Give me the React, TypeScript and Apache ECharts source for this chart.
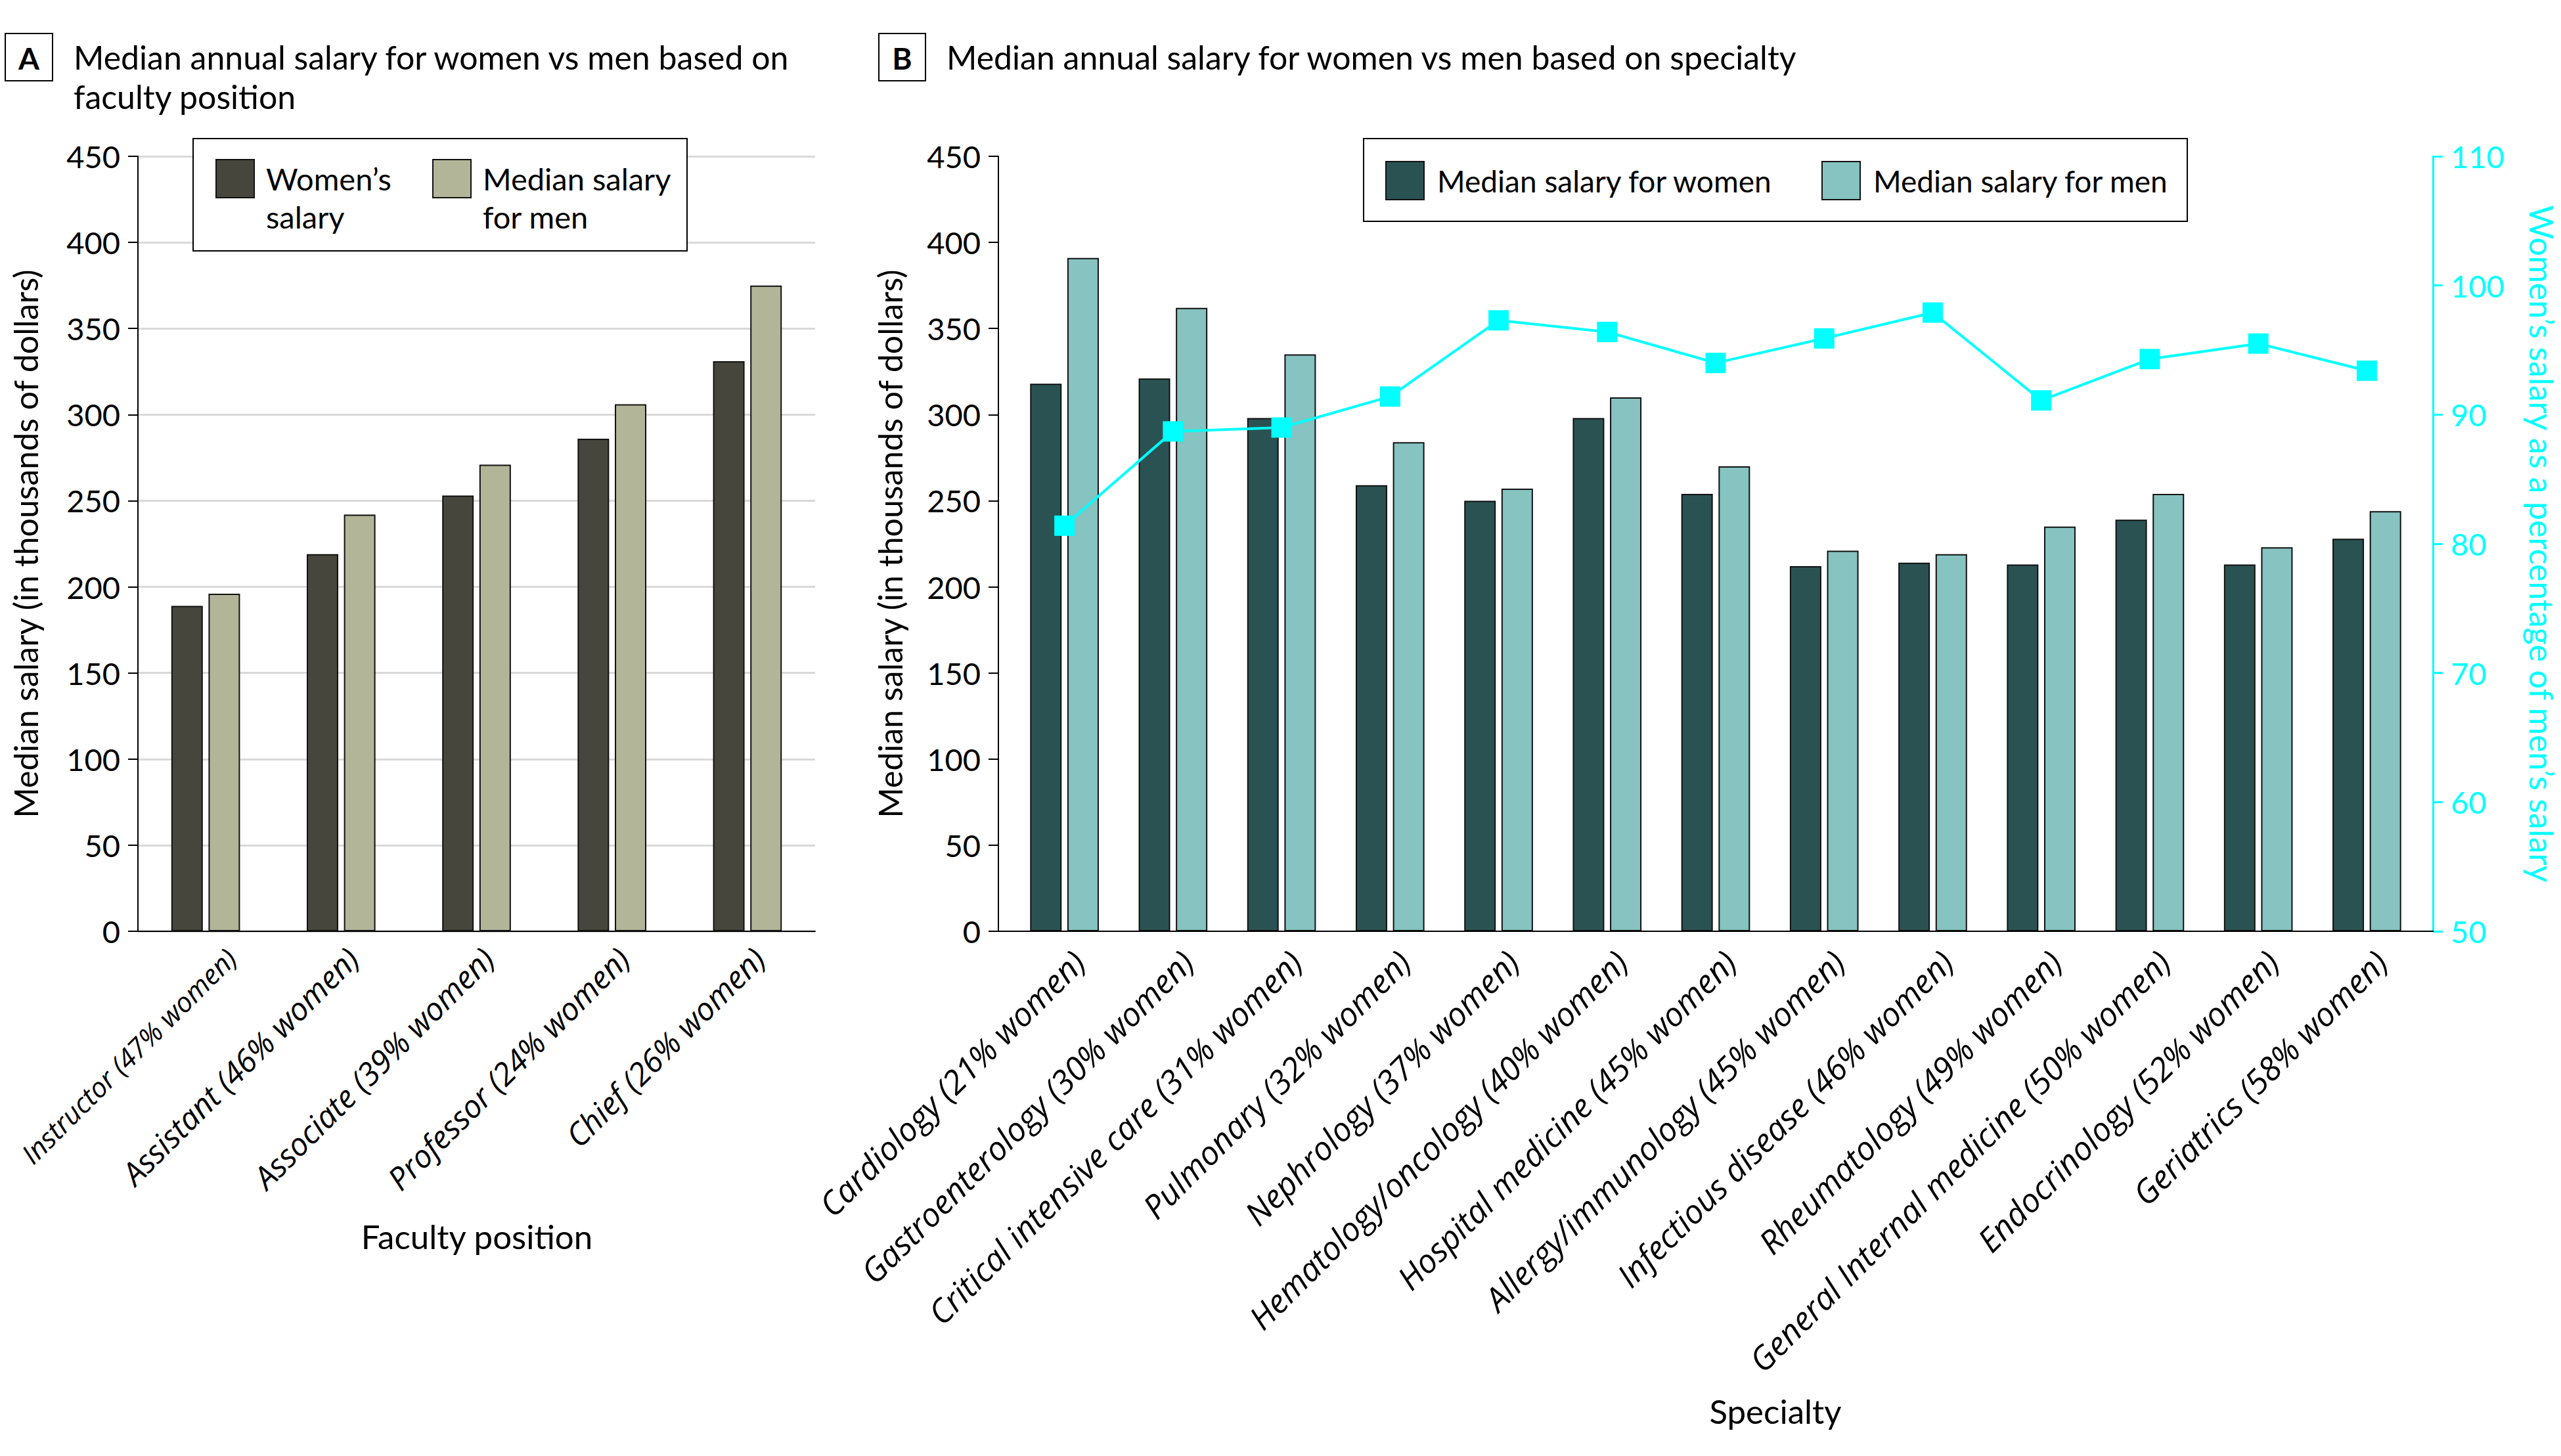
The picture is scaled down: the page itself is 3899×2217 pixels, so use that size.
import React, { useEffect, useRef } from "react";
import * as echarts from "echarts";

// ---------- DATA ----------
const positionCategories = [
  "Instructor (47% women)",
  "Assistant (46% women)",
  "Associate (39% women)",
  "Professor (24% women)",
  "Chief (26% women)",
];
const positionWomen = [189, 219, 253, 286, 331];
const positionMen = [196, 242, 271, 306, 375];

const specialtyCategories = [
  "Cardiology (21% women)",
  "Gastroenterology (30% women)",
  "Critical intensive care (31% women)",
  "Pulmonary (32% women)",
  "Nephrology (37% women)",
  "Hematology/oncology (40% women)",
  "Hospital medicine (45% women)",
  "Allergy/immunology (45% women)",
  "Infectious disease (46% women)",
  "Rheumatology (49% women)",
  "General Internal medicine (50% women)",
  "Endocrinology (52% women)",
  "Geriatrics (58% women)",
];
const specialtyWomen = [318, 321, 298, 259, 250, 298, 254, 212, 214, 213, 239, 213, 228];
const specialtyMen = [391, 362, 335, 284, 257, 310, 270, 221, 219, 235, 254, 223, 244];
const womenPctOfMen = [81.4, 88.7, 89.0, 91.4, 97.3, 96.4, 94.0, 95.9, 97.9, 91.1, 94.3, 95.5, 93.4];

const salaryAxis = { min: 0, max: 450, interval: 50 };
const pctAxis = { min: 50, max: 110, interval: 10 };

const FONT = "Lato, 'Noto Sans', sans-serif";
const LABEL_FONT = "'Open Sans', 'Noto Sans', sans-serif";
const CYAN = "#00ffff";

export default function App() {
  const ref = useRef<HTMLDivElement>(null);

  useEffect(() => {
    if (!ref.current) return;
    const chart = echarts.init(ref.current, null, { renderer: "svg" });

    const barBase = {
      type: "bar",
      barWidth: 48,
      barGap: "18%",
    };
    const border = { borderColor: "#111", borderWidth: 2 };
    const centered = {
      textAlign: "center",
      textVerticalAlign: "middle",
      align: "center",
      verticalAlign: "middle",
    };
    const positionLabel = {
      interval: 0,
      rotate: 45,
      lineHeight: 50,
      fontStyle: "italic",
      color: "#000",
      margin: -3,
      verticalAlign: "top",
      padding: [13, 13, 0, 0],
      fontFamily: LABEL_FONT,
    };

    const option: any = {
      animation: false,
      backgroundColor: "#ffffff",
      textStyle: { fontFamily: FONT },
      title: [
        {
          text: "Median annual salary for women vs men based on\nfaculty position",
          left: 112,
          top: 57,
          padding: 0,
          textStyle: { fontSize: 50, fontWeight: "normal", color: "#000", lineHeight: 60, fontFamily: FONT },
        },
        {
          text: "Median annual salary for women vs men based on specialty",
          left: 1441,
          top: 57,
          padding: 0,
          textStyle: { fontSize: 50, fontWeight: "normal", color: "#000", lineHeight: 60, fontFamily: FONT },
        },
      ],
      grid: [
        { left: 210, right: 2658, top: 238, bottom: 799, outerBoundsMode: "none", containLabel: false },
        { left: 1538, right: 213, top: 238, bottom: 799, outerBoundsMode: "none", containLabel: false },
        // label-only grid: the first faculty label sits slightly to the right in the reference
        { left: 231, right: 2637, top: 238, bottom: 799, outerBoundsMode: "none", containLabel: false },
      ],
      legend: [
        {
          data: ["Women’s salary"],
          left: 328,
          top: 185,
          padding: 0,
          icon: "rect",
          itemWidth: 58,
          itemHeight: 58,
          selectedMode: false,
          formatter: () => "\nWomen’s\nsalary",
          textStyle: { fontSize: 47, lineHeight: 58, padding: [0, 0, 0, 13], color: "#000", fontFamily: FONT },
        },
        {
          data: ["Median salary for men (faculty position)"],
          left: 658,
          top: 185,
          padding: 0,
          icon: "rect",
          itemWidth: 58,
          itemHeight: 58,
          selectedMode: false,
          formatter: () => "\nMedian salary\nfor men",
          textStyle: { fontSize: 47, lineHeight: 58, padding: [0, 0, 0, 13], color: "#000", fontFamily: FONT },
        },
        {
          data: ["Median salary for women"],
          left: 2109,
          top: 245,
          padding: 0,
          icon: "rect",
          itemWidth: 58,
          itemHeight: 58,
          selectedMode: false,
          textStyle: { fontSize: 46, padding: [0, 0, 0, 15], color: "#000", fontFamily: FONT },
        },
        {
          data: ["Median salary for men"],
          left: 2773,
          top: 245,
          padding: 0,
          icon: "rect",
          itemWidth: 58,
          itemHeight: 58,
          selectedMode: false,
          textStyle: { fontSize: 46, padding: [0, 0, 0, 15], color: "#000", fontFamily: FONT },
        },
      ],
      xAxis: [
        {
          type: "category",
          gridIndex: 0,
          data: positionCategories,
          axisLine: { show: true, lineStyle: { color: "#000", width: 2 } },
          axisTick: { show: false },
          axisLabel: {
            ...positionLabel,
            fontSize: 48,
            formatter: (v: string, i: number) => (i === 0 ? "" : v),
          },
        },
        {
          type: "category",
          gridIndex: 1,
          data: specialtyCategories,
          axisLine: { show: false },
          axisTick: { show: false },
          axisLabel: {
            interval: 0,
            rotate: 45,
            fontSize: 50,
            lineHeight: 50,
            fontStyle: "italic",
            color: "#000",
            margin: 16,
            verticalAlign: "top",
            padding: [6, 0, 0, 0],
            fontFamily: LABEL_FONT,
          },
        },
        {
          type: "category",
          gridIndex: 2,
          data: positionCategories,
          axisLine: { show: false },
          axisTick: { show: false },
          splitLine: { show: false },
          axisLabel: {
            ...positionLabel,
            fontSize: 42,
            formatter: (v: string, i: number) => (i === 0 ? v : ""),
          },
        },
      ],
      yAxis: [
        {
          type: "value",
          gridIndex: 0,
          ...salaryAxis,
          axisLine: { show: true, lineStyle: { color: "#000", width: 2 } },
          axisTick: { show: true, length: 15, lineStyle: { color: "#000", width: 2 } },
          axisLabel: { fontSize: 47, color: "#000", margin: 27, fontFamily: FONT },
          splitLine: { show: true, lineStyle: { color: "#d9d9d9", width: 3 } },
          name: "Median salary (in thousands of dollars)",
          nameLocation: "middle",
          nameGap: 146,
          nameTextStyle: { fontSize: 50, color: "#000", fontFamily: FONT },
        },
        {
          type: "value",
          gridIndex: 1,
          ...salaryAxis,
          offset: 18,
          axisLine: { show: true, lineStyle: { color: "#000", width: 2 } },
          axisTick: { show: true, length: 15, lineStyle: { color: "#000", width: 2 } },
          axisLabel: { fontSize: 47, color: "#000", margin: 27, fontFamily: FONT },
          splitLine: { show: false },
          name: "Median salary (in thousands of dollars)",
          nameLocation: "middle",
          nameGap: 140,
          nameTextStyle: { fontSize: 50, color: "#000", fontFamily: FONT },
        },
        {
          type: "value",
          gridIndex: 1,
          position: "right",
          ...pctAxis,
          offset: 18,
          axisLine: { show: true, lineStyle: { color: CYAN, width: 3 } },
          axisTick: { show: true, length: 15, lineStyle: { color: CYAN, width: 3 } },
          axisLabel: { fontSize: 47, color: CYAN, margin: 27, fontFamily: FONT },
          splitLine: { show: false },
          name: "Women’s salary as a percentage of men’s salary",
          nameLocation: "middle",
          nameRotate: -90,
          nameGap: 141,
          nameTextStyle: { fontSize: 50, color: CYAN, fontFamily: FONT },
        },
        {
          type: "value",
          gridIndex: 2,
          show: false,
          min: 0,
          max: 1,
        },
      ],
      series: [
        {
          ...barBase,
          name: "Women’s salary",
          xAxisIndex: 0,
          yAxisIndex: 0,
          data: positionWomen,
          itemStyle: { color: "#47463c", ...border },
        },
        {
          ...barBase,
          name: "Median salary for men (faculty position)",
          xAxisIndex: 0,
          yAxisIndex: 0,
          data: positionMen,
          itemStyle: { color: "#b3b598", ...border },
        },
        {
          ...barBase,
          name: "Median salary for women",
          xAxisIndex: 1,
          yAxisIndex: 1,
          data: specialtyWomen,
          itemStyle: { color: "#2b5253", ...border },
        },
        {
          ...barBase,
          name: "Median salary for men",
          xAxisIndex: 1,
          yAxisIndex: 1,
          data: specialtyMen,
          itemStyle: { color: "#86c3c1", ...border },
        },
        {
          type: "line",
          name: "Women’s salary as a percentage of men’s salary",
          xAxisIndex: 1,
          yAxisIndex: 2,
          data: womenPctOfMen,
          symbol: "rect",
          symbolSize: 31,
          z: 5,
          lineStyle: { color: CYAN, width: 4 },
          itemStyle: { color: CYAN },
        },
      ],
      graphic: [
        {
          type: "rect",
          z: 3,
          shape: { x: 294, y: 211, width: 752, height: 171 },
          style: { fill: "#fff", stroke: "#000", lineWidth: 2 },
        },
        {
          type: "rect",
          z: 3,
          shape: { x: 2076, y: 211, width: 1254, height: 126 },
          style: { fill: "#fff", stroke: "#000", lineWidth: 2 },
        },
        {
          type: "rect",
          shape: { x: 8, y: 51, width: 72, height: 72 },
          style: { fill: "#fff", stroke: "#000", lineWidth: 2 },
        },
        {
          type: "text",
          x: 44,
          y: 88,
          style: { text: "A", fill: "#000", fontSize: 46, fontWeight: "bold", fontFamily: FONT, ...centered },
        },
        {
          type: "rect",
          shape: { x: 1338, y: 51, width: 71, height: 72 },
          style: { fill: "#fff", stroke: "#000", lineWidth: 2 },
        },
        {
          type: "text",
          x: 1373.5,
          y: 88,
          style: { text: "B", fill: "#000", fontSize: 46, fontWeight: "bold", fontFamily: FONT, ...centered },
        },
        {
          type: "text",
          x: 726,
          y: 1882,
          style: { text: "Faculty position", fill: "#000", fontSize: 51, fontFamily: FONT, ...centered },
        },
        {
          type: "text",
          x: 2703,
          y: 2148,
          style: { text: "Specialty", fill: "#000", fontSize: 51, fontFamily: FONT, ...centered },
        },
        {
          type: "line",
          z: 3,
          shape: { x1: 1519, y1: 1418, x2: 3705, y2: 1418 },
          style: { stroke: "#000", lineWidth: 2 },
        },
      ],
    };

    chart.setOption(option);
    return () => {
      chart.dispose();
    };
  }, []);

  return (
    <div
      ref={ref}
      style={{ position: "absolute", left: 0, top: 0, width: 3899, height: 2217, background: "#fff" }}
    />
  );
}
